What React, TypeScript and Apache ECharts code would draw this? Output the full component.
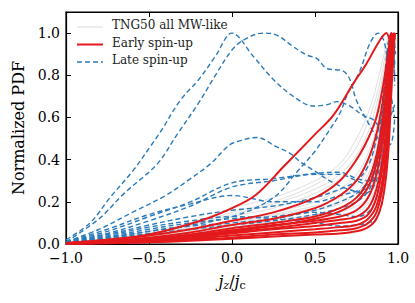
import React, { useEffect, useRef } from "react";
import * as echarts from "echarts";

// Shared x grid (j_z/j_c) for most curves
const X_GRID = [-1, -0.75, -0.5, -0.25, 0, 0.25, 0.5, 0.65, 0.75, 0.82, 0.87, 0.91, 0.94, 0.96, 0.98];

// TNG50 all MW-like (gray)
const GRAY_CURVES: number[][] = [
  [0.004, 0.025, 0.05, 0.09, 0.15, 0.2, 0.28, 0.36, 0.46, 0.58, 0.7, 0.84, 0.96, 1.0, 0.92],
  [0.004, 0.02, 0.045, 0.08, 0.13, 0.17, 0.24, 0.31, 0.4, 0.5, 0.62, 0.78, 0.93, 1.0, 0.95],
  [0.003, 0.018, 0.04, 0.07, 0.11, 0.15, 0.2, 0.26, 0.33, 0.43, 0.55, 0.72, 0.9, 0.99, 1.0],
  [0.003, 0.015, 0.035, 0.06, 0.1, 0.14, 0.18, 0.22, 0.28, 0.36, 0.48, 0.66, 0.86, 0.98, 1.0],
  [0.003, 0.014, 0.03, 0.055, 0.09, 0.12, 0.16, 0.19, 0.24, 0.31, 0.42, 0.6, 0.82, 0.97, 1.0],
  [0.002, 0.012, 0.028, 0.05, 0.08, 0.11, 0.14, 0.17, 0.2, 0.26, 0.36, 0.54, 0.78, 0.95, 1.0],
  [0.002, 0.011, 0.025, 0.045, 0.07, 0.1, 0.13, 0.15, 0.18, 0.22, 0.3, 0.47, 0.72, 0.93, 1.0],
  [0.002, 0.01, 0.022, 0.04, 0.065, 0.09, 0.115, 0.13, 0.15, 0.19, 0.26, 0.42, 0.67, 0.9, 1.0],
  [0.005, 0.028, 0.06, 0.1, 0.17, 0.22, 0.3, 0.38, 0.5, 0.62, 0.75, 0.88, 0.98, 1.0, 0.9],
  [0.004, 0.022, 0.048, 0.085, 0.14, 0.19, 0.26, 0.33, 0.42, 0.53, 0.66, 0.8, 0.94, 1.0, 0.94],
  [0.003, 0.016, 0.036, 0.065, 0.1, 0.135, 0.17, 0.2, 0.25, 0.33, 0.45, 0.63, 0.84, 0.97, 1.0],
  [0.002, 0.012, 0.026, 0.048, 0.075, 0.1, 0.125, 0.14, 0.16, 0.2, 0.28, 0.45, 0.7, 0.92, 1.0],
];

// Late spin-up (blue dashed) on the shared grid
const LATE_GRID_CURVES: number[][] = [
  [0.01, 0.06, 0.13, 0.2, 0.29, 0.31, 0.335, 0.34, 0.31, 0.3, 0.4, 0.65, 0.9, 1.0, 0.8],
  [0.01, 0.05, 0.11, 0.18, 0.27, 0.3, 0.33, 0.33, 0.3, 0.28, 0.35, 0.6, 0.85, 1.0, 0.85],
  [0.01, 0.07, 0.14, 0.19, 0.23, 0.2, 0.2, 0.23, 0.25, 0.27, 0.4, 0.7, 0.95, 1.0, 0.75],
  [0.005, 0.04, 0.08, 0.11, 0.13, 0.12, 0.1, 0.085, 0.09, 0.1, 0.12, 0.22, 0.5, 0.85, 1.0],
  [0.005, 0.035, 0.07, 0.1, 0.12, 0.13, 0.15, 0.14, 0.13, 0.15, 0.22, 0.45, 0.75, 0.97, 1.0],
  [0.004, 0.03, 0.06, 0.085, 0.1, 0.12, 0.16, 0.2, 0.24, 0.3, 0.42, 0.62, 0.88, 1.0, 0.9],
  [0.004, 0.025, 0.05, 0.07, 0.09, 0.11, 0.14, 0.17, 0.2, 0.25, 0.35, 0.55, 0.8, 1.0, 0.95],
  [0.005, 0.045, 0.09, 0.13, 0.16, 0.18, 0.22, 0.26, 0.3, 0.37, 0.5, 0.7, 0.92, 1.0, 0.85],
];

// Late spin-up outliers with their own x samples
const LATE_A: number[][] = [
  [-1, 0.02], [-0.855, 0.1], [-0.735, 0.22], [-0.594, 0.35], [-0.494, 0.46], [-0.424, 0.54],
  [-0.313, 0.68], [-0.2, 0.78], [-0.1, 0.89], [0, 1.0], [0.128, 0.89], [0.249, 0.78], [0.369, 0.7],
  [0.49, 0.654], [0.57, 0.66], [0.63, 0.675], [0.71, 0.654], [0.79, 0.61], [0.85, 0.59], [0.9, 0.55],
  [0.95, 0.6], [0.98, 0.66],
];
const LATE_B: number[][] = [
  [-1, 0.01], [-0.8, 0.12], [-0.65, 0.24], [-0.45, 0.38], [-0.33, 0.52], [-0.2, 0.67], [-0.1, 0.8],
  [0, 0.92], [0.07, 0.967], [0.187, 1.0], [0.27, 0.99], [0.37, 0.935], [0.45, 0.896], [0.51, 0.88],
  [0.57, 0.833], [0.67, 0.82], [0.71, 0.78], [0.75, 0.68], [0.81, 0.59], [0.89, 0.49], [0.95, 0.47],
  [0.98, 0.6],
];
const LATE_C: number[][] = [
  [-1, 0.01], [-0.8, 0.07], [-0.6, 0.15], [-0.4, 0.23], [-0.25, 0.31], [-0.13, 0.38], [-0.03, 0.46],
  [0.01, 0.48], [0.15, 0.505], [0.27, 0.46], [0.35, 0.43], [0.41, 0.39], [0.49, 0.35], [0.61, 0.29],
  [0.7, 0.26], [0.8, 0.24], [0.87, 0.3], [0.92, 0.6], [0.95, 0.9], [0.97, 1.0], [0.985, 0.9],
];
const LATE_D: number[][] = [
  [-1, 0.005], [-0.5, 0.06], [0, 0.13], [0.25, 0.22], [0.4, 0.35], [0.5, 0.44], [0.57, 0.52],
  [0.65, 0.62], [0.69, 0.7], [0.77, 0.82], [0.83, 0.95], [0.88, 1.0], [0.92, 0.95], [0.96, 0.7],
  [0.98, 0.6],
];

// Early spin-up (red)
const EARLY_GRID_CURVES: number[][] = [
  [0.005, 0.02, 0.04, 0.07, 0.11, 0.15, 0.22, 0.3, 0.4, 0.5, 0.6, 0.75, 0.9, 1.0, 0.97],
  [0.003, 0.015, 0.03, 0.055, 0.09, 0.12, 0.17, 0.23, 0.3, 0.4, 0.52, 0.68, 0.85, 0.98, 1.0],
  [0.003, 0.012, 0.025, 0.045, 0.075, 0.1, 0.13, 0.17, 0.22, 0.3, 0.42, 0.6, 0.8, 0.95, 1.0],
  [0.002, 0.01, 0.02, 0.04, 0.065, 0.09, 0.11, 0.13, 0.16, 0.22, 0.33, 0.5, 0.72, 0.92, 1.0],
  [0.002, 0.008, 0.018, 0.035, 0.055, 0.075, 0.1, 0.115, 0.13, 0.17, 0.26, 0.42, 0.65, 0.88, 1.0],
  [0.002, 0.008, 0.016, 0.03, 0.05, 0.07, 0.085, 0.1, 0.11, 0.14, 0.22, 0.38, 0.6, 0.85, 1.0],
  [0.001, 0.006, 0.013, 0.025, 0.04, 0.055, 0.07, 0.08, 0.09, 0.12, 0.18, 0.32, 0.55, 0.8, 1.0],
  [0.001, 0.005, 0.01, 0.02, 0.03, 0.045, 0.055, 0.065, 0.075, 0.1, 0.15, 0.28, 0.5, 0.78, 1.0],
  [0.001, 0.004, 0.008, 0.015, 0.025, 0.035, 0.045, 0.05, 0.06, 0.08, 0.12, 0.22, 0.42, 0.72, 1.0],
  [0.002, 0.01, 0.022, 0.04, 0.06, 0.085, 0.12, 0.155, 0.2, 0.27, 0.38, 0.55, 0.78, 0.96, 1.0],
];
const EARLY_OUTLIER: number[][] = [
  [-1, 0.003], [-0.75, 0.02], [-0.5, 0.045], [-0.19, 0.11], [0, 0.17], [0.147, 0.235], [0.31, 0.366],
  [0.5, 0.52], [0.61, 0.61], [0.73, 0.76], [0.81, 0.855], [0.89, 0.965], [0.93, 1.0], [0.96, 0.95],
  [0.975, 0.99],
];

const NAME_GRAY = "TNG50 all MW-like";
const NAME_EARLY = "Early spin-up";
const NAME_LATE = "Late spin-up";

const COLOR_GRAY = "#dadada";
const COLOR_RED = "#e3191c";
const COLOR_BLUE = "#2b7bba";

const FONT = "DejaVu Serif";

const zip = (ys: number[]) => ys.map((y, i) => [X_GRID[i], y]);

export default function App() {
  const ref = useRef<HTMLDivElement>(null);
  useEffect(() => {
    if (!ref.current) return;
    const chart = echarts.init(ref.current, undefined, { renderer: "svg" });

    const series: any[] = [];
    const common = { type: "line", showSymbol: false, symbol: "none", smooth: 0.35, silent: true };
    GRAY_CURVES.forEach((ys) =>
      series.push({ ...common, name: NAME_GRAY, data: zip(ys), lineStyle: { color: COLOR_GRAY, width: 0.9 } })
    );
    const blueStyle = { color: COLOR_BLUE, width: 1.4, type: [5, 3] };
    [...LATE_GRID_CURVES.map(zip), LATE_A, LATE_B, LATE_C, LATE_D].forEach((d) =>
      series.push({ ...common, name: NAME_LATE, data: d, lineStyle: blueStyle })
    );
    [...EARLY_GRID_CURVES.map(zip), EARLY_OUTLIER].forEach((d) =>
      series.push({ ...common, name: NAME_EARLY, data: d, lineStyle: { color: COLOR_RED, width: 2 } })
    );

    const tickCommon = { show: true, inside: true, length: 5, lineStyle: { color: "#000", width: 1 } };
    const lineCommon = { show: true, onZero: false, lineStyle: { color: "#000", width: 1.2 } };
    const xFmt = (v: number) => (v < 0 ? "\u2212" + Math.abs(v).toFixed(1) : v.toFixed(1));
    const yFmt = (v: number) => (Math.abs(v * 5 - Math.round(v * 5)) < 1e-6 && v <= 1.0001 ? v.toFixed(1) : "");

    // legend drawn as graphic (line samples + real text)
    const legendRows = [
      { name: NAME_GRAY, style: { stroke: COLOR_GRAY, lineWidth: 1 } },
      { name: NAME_EARLY, style: { stroke: COLOR_RED, lineWidth: 2 } },
      { name: NAME_LATE, style: { stroke: COLOR_BLUE, lineWidth: 1.4, lineDash: [5, 3] } },
    ];
    const legendGraphic = legendRows.flatMap((r, i) => {
      const y = 27 + i * 17.5;
      return [
        { type: "line", shape: { x1: 77, y1: y, x2: 103, y2: y }, style: r.style, silent: true },
        {
          type: "text", left: 112, top: y - 8,
          style: { text: r.name, fontFamily: FONT, fontSize: 12, fill: "#222" },
          silent: true,
        },
      ];
    });

    chart.setOption({
      animation: false,
      grid: { left: 66, right: 17, top: 12, bottom: 59, show: true, borderColor: "#000", borderWidth: 1.2 },
      graphic: legendGraphic,
      xAxis: [
        {
          type: "value", min: -1, max: 1, interval: 0.5,
          axisLine: lineCommon, axisTick: tickCommon, splitLine: { show: false },
          axisLabel: { formatter: xFmt, fontFamily: FONT, fontSize: 14, color: "#000", margin: 7 },
          name: "{i|j}{s|z}{n|/}{i|j}{r|c}",
          nameLocation: "middle",
          nameGap: 28,
          nameTextStyle: {
            fontFamily: FONT,
            rich: {
              i: { fontFamily: FONT, fontStyle: "italic", fontSize: 16, color: "#000" },
              n: { fontFamily: FONT, fontSize: 16, color: "#000" },
              s: { fontFamily: FONT, fontStyle: "italic", fontSize: 11, color: "#000", verticalAlign: "bottom", padding: [8, 0, 0, 0] },
              r: { fontFamily: FONT, fontSize: 11, color: "#000", verticalAlign: "bottom", padding: [8, 0, 0, 0] },
            },
          },
        },
        {
          type: "value", min: -1, max: 1, interval: 0.5, position: "top",
          axisLine: lineCommon, axisTick: tickCommon, axisLabel: { show: false }, splitLine: { show: false },
        },
      ],
      yAxis: [
        {
          type: "value", min: 0, max: 1.1, interval: 0.2,
          axisLine: lineCommon, axisTick: tickCommon, splitLine: { show: false },
          axisLabel: { formatter: yFmt, fontFamily: FONT, fontSize: 14, color: "#000", margin: 6, showMaxLabel: false },
          name: "Normalized PDF",
          nameLocation: "middle",
          nameGap: 36,
          nameTextStyle: { fontFamily: FONT, fontSize: 16, color: "#000" },
        },
        {
          type: "value", min: 0, max: 1.1, interval: 0.2, position: "right",
          axisLine: lineCommon, axisTick: tickCommon, axisLabel: { show: false }, splitLine: { show: false },
        },
      ],
      series,
    });
    return () => chart.dispose();
  }, []);
  return <div ref={ref} style={{ width: 415, height: 303, position: "absolute", left: 0, top: 0 }} />;
}
